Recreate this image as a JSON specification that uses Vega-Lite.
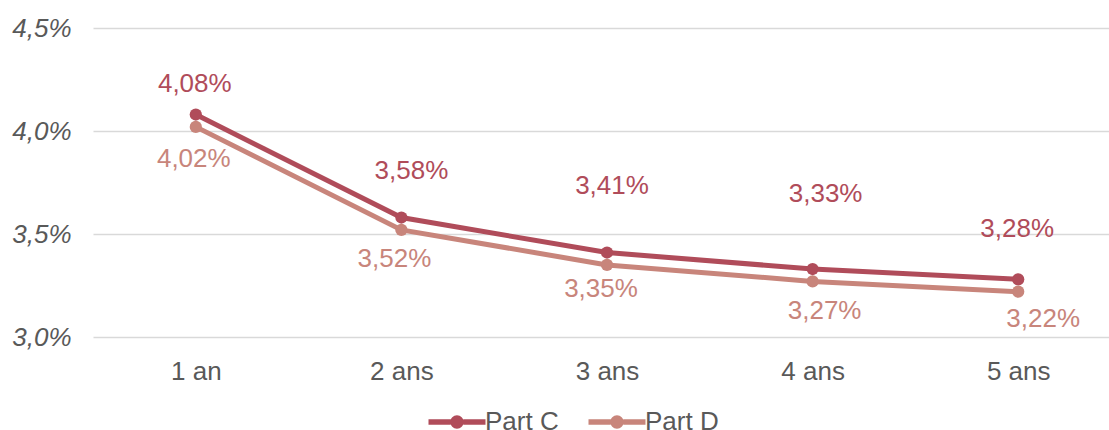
{
  "$schema": "https://vega.github.io/schema/vega-lite/v6.json",
  "width": 1028,
  "height": 309,
  "autosize": "none",
  "padding": {"left": 93, "top": 28, "right": -12, "bottom": 93},
  "background": "white",
  "config": {
    "view": {"stroke": null},
    "font": "Liberation Sans"
  },
  "data": {
    "values": [
      {"duree": "1 an", "serie": "Part C", "valeur": 4.08},
      {"duree": "2 ans", "serie": "Part C", "valeur": 3.58},
      {"duree": "3 ans", "serie": "Part C", "valeur": 3.41},
      {"duree": "4 ans", "serie": "Part C", "valeur": 3.33},
      {"duree": "5 ans", "serie": "Part C", "valeur": 3.28},
      {"duree": "1 an", "serie": "Part D", "valeur": 4.02},
      {"duree": "2 ans", "serie": "Part D", "valeur": 3.52},
      {"duree": "3 ans", "serie": "Part D", "valeur": 3.35},
      {"duree": "4 ans", "serie": "Part D", "valeur": 3.27},
      {"duree": "5 ans", "serie": "Part D", "valeur": 3.22}
    ]
  },
  "transform": [
    {"calculate": "replace(format(datum.valeur, '.2f'), '.', ',') + '%'", "as": "etiquette"}
  ],
  "encoding": {
    "x": {
      "field": "duree", "type": "ordinal", "sort": null,
      "scale": {"type": "point", "padding": 0.5},
      "axis": {
        "title": null, "labelAngle": 0, "domain": false, "ticks": false, "grid": false,
        "labelFontSize": 26, "labelColor": "#595959", "labelPadding": 21
      }
    },
    "y": {
      "field": "valeur", "type": "quantitative",
      "scale": {"domain": [3.0, 4.5], "nice": false, "zero": false},
      "axis": {
        "title": null, "values": [3.0, 3.5, 4.0, 4.5],
        "labelExpr": "replace(format(datum.value, '.1f'), '.', ',') + '%'",
        "domain": false, "ticks": false, "grid": true, "gridColor": "#d9d9d9", "gridWidth": 1.5,
        "labelFontSize": 26, "labelFontStyle": "italic", "labelColor": "#595959", "labelPadding": 22
      }
    },
    "color": {
      "field": "serie", "type": "nominal",
      "scale": {"domain": ["Part C", "Part D"], "range": ["#b04c5a", "#c8857b"]},
      "legend": {
        "title": null, "orient": "none", "direction": "horizontal",
        "legendX": 345, "legendY": 375,
        "symbolType": "M-1.5,-0.14 H-0.33 V0.14 H-1.5 Z M0.33,-0.14 H1.5 V0.14 H0.33 Z M-0.35,0 A0.35,0.35 0 1,1 0.35,0 A0.35,0.35 0 1,1 -0.35,0 Z",
        "symbolSize": 1444, "symbolFillOpacity": 1, "symbolStrokeWidth": 0,
        "labelFontSize": 26, "labelColor": "#595959", "labelOffset": 9,
        "columnPadding": 29
      }
    }
  },
  "layer": [
    {
      "mark": {"type": "line", "strokeWidth": 5, "strokeCap": "round"},
      "encoding": {"detail": {"field": "serie"}}
    },
    {
      "mark": {"type": "point", "filled": true, "opacity": 1, "size": 150},
      "encoding": {}
    },
    {
      "transform": [{"filter": "datum.serie === 'Part C' && datum.duree === '1 an'"}],
      "mark": {"type": "text", "dx": -1, "dy": -31, "fontSize": 26},
      "encoding": {"text": {"field": "etiquette", "type": "nominal"}}
    },
    {
      "transform": [{"filter": "datum.serie === 'Part C' && datum.duree === '2 ans'"}],
      "mark": {"type": "text", "dx": 10, "dy": -47, "fontSize": 26},
      "encoding": {"text": {"field": "etiquette", "type": "nominal"}}
    },
    {
      "transform": [{"filter": "datum.serie === 'Part C' && datum.duree === '3 ans'"}],
      "mark": {"type": "text", "dx": 5, "dy": -67, "fontSize": 26},
      "encoding": {"text": {"field": "etiquette", "type": "nominal"}}
    },
    {
      "transform": [{"filter": "datum.serie === 'Part C' && datum.duree === '4 ans'"}],
      "mark": {"type": "text", "dx": 13, "dy": -75, "fontSize": 26},
      "encoding": {"text": {"field": "etiquette", "type": "nominal"}}
    },
    {
      "transform": [{"filter": "datum.serie === 'Part C' && datum.duree === '5 ans'"}],
      "mark": {"type": "text", "dx": -1, "dy": -50, "fontSize": 26},
      "encoding": {"text": {"field": "etiquette", "type": "nominal"}}
    },
    {
      "transform": [{"filter": "datum.serie === 'Part D' && datum.duree === '1 an'"}],
      "mark": {"type": "text", "dx": -2, "dy": 32, "fontSize": 26},
      "encoding": {"text": {"field": "etiquette", "type": "nominal"}}
    },
    {
      "transform": [{"filter": "datum.serie === 'Part D' && datum.duree === '2 ans'"}],
      "mark": {"type": "text", "dx": -7, "dy": 29, "fontSize": 26},
      "encoding": {"text": {"field": "etiquette", "type": "nominal"}}
    },
    {
      "transform": [{"filter": "datum.serie === 'Part D' && datum.duree === '3 ans'"}],
      "mark": {"type": "text", "dx": -6, "dy": 24, "fontSize": 26},
      "encoding": {"text": {"field": "etiquette", "type": "nominal"}}
    },
    {
      "transform": [{"filter": "datum.serie === 'Part D' && datum.duree === '4 ans'"}],
      "mark": {"type": "text", "dx": 12, "dy": 30, "fontSize": 26},
      "encoding": {"text": {"field": "etiquette", "type": "nominal"}}
    },
    {
      "transform": [{"filter": "datum.serie === 'Part D' && datum.duree === '5 ans'"}],
      "mark": {"type": "text", "dx": 25, "dy": 27, "fontSize": 26},
      "encoding": {"text": {"field": "etiquette", "type": "nominal"}}
    }
  ]
}
